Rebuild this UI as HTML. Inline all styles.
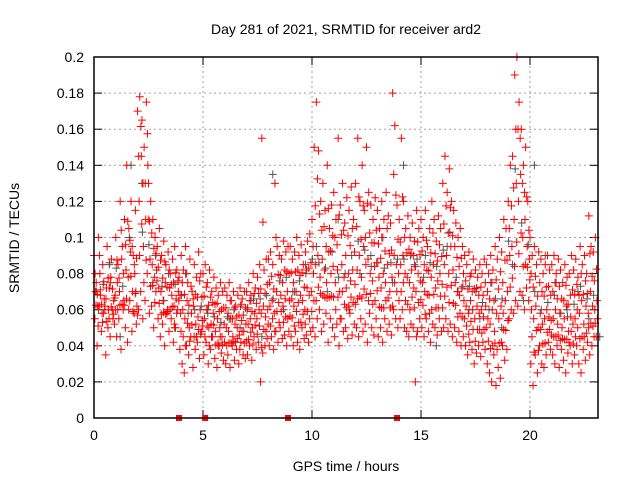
<!DOCTYPE html>
<html><head><meta charset="utf-8"><style>
body{margin:0;background:#fff}
svg{display:block;font-family:"Liberation Sans",sans-serif}
</style></head><body>
<svg id="c" width="640" height="480">
<rect width="640" height="480" fill="#fff"/>
<text x="346" y="34" font-size="14" text-anchor="middle">Day 281 of 2021, SRMTID for receiver ard2</text>
<text x="0" y="0" font-size="14" text-anchor="middle" transform="translate(19,238) rotate(-90)">SRMTID / TECUs</text>
<text x="346" y="471" font-size="14" text-anchor="middle">GPS time / hours</text>
<g id="grid"></g><g id="pts"></g>
<rect x="94" y="57" width="504" height="361" fill="none" stroke="#000" stroke-width="1.5"/>
</svg>
<script>
const xTicks=[0,5,10,15,20];
const yTicks=[0,0.02,0.04,0.06,0.08,0.1,0.12,0.14,0.16,0.18,0.2];
const yTickLabels=["0","0.02","0.04","0.06","0.08","0.1","0.12","0.14","0.16","0.18","0.2"];
const redA=[90,75,100,68,85,60,95,72,88,65,100,85,120,95,110,140,105,120,90,115,170,178,165,150,175,130,120,110,100,95,105,90,98,85,92,80,88,95,82,78,90,82,95,75,88,70,85,78,92,80,80,85,75,82,70,78,72,68,75,70,72,68,75,65,70,62,68,72,66,70,70,75,68,80,72,78,85,155,82,88,88,92,85,130,95,90,88,98,92,95,95,88,92,100,90,96,85,92,98,102,110,150,175,148,120,130,115,140,105,118,125,110,155,118,130,108,122,115,128,110,130,155,120,140,115,150,125,118,110,122,115,105,120,110,125,112,108,180,162,118,110,155,120,105,112,100,108,98,115,105,110,100,115,95,105,120,110,98,112,105,130,145,125,138,120,115,108,100,105,95,90,85,92,80,88,82,78,85,80,88,85,80,90,82,95,88,100,92,110,105,120,140,145,190,200,175,160,140,150,120,100,90,95,85,92,88,80,85,90,82,85,90,80,88,82,75,85,78,80,90,82,88,78,95,85,90,80,112,95,92,100];
const redB=[55,40,62,48,58,35,50,45,60,52,45,55,38,60,50,42,65,48,58,52,60,70,55,65,80,58,62,50,70,55,45,52,40,58,48,55,42,50,60,38,30,25,40,35,45,28,38,42,33,48,35,42,30,38,45,33,28,40,36,32,30,35,28,40,32,38,30,42,35,33,35,40,32,45,38,42,20,36,40,44,40,45,38,48,42,50,44,46,40,48,45,40,48,42,38,50,44,46,42,48,50,45,55,60,48,52,58,42,55,50,45,52,40,55,48,50,44,58,46,52,50,45,55,48,52,42,58,50,46,55,45,50,42,55,48,52,46,60,55,50,55,60,50,48,45,52,50,20,48,55,50,45,55,48,42,52,50,46,55,48,50,55,48,52,45,50,42,48,40,45,40,35,42,38,30,36,40,34,42,38,30,25,20,35,18,28,22,40,32,38,55,60,58,65,62,70,68,60,72,65,30,18,35,25,40,30,28,35,42,38,35,30,40,28,38,32,25,36,40,30,35,40,30,25,38,32,42,35,40,45,45];
const redC=[70,62,80,58,66,72,60,78,55,68,75,70,88,65,82,78,92,70,80,62,120,145,95,110,140,88,85,78,82,72,70,65,75,60,72,68,62,66,70,58,60,55,65,50,58,62,52,56,60,54,55,60,50,52,58,48,55,50,45,52,50,48,55,45,52,50,46,54,48,52,52,55,50,58,55,60,58,62,56,60,62,65,58,70,64,68,62,66,70,65,66,62,70,64,68,65,60,72,68,70,80,85,90,78,88,82,75,92,80,84,75,82,70,85,78,72,80,76,82,74,82,90,78,95,85,88,80,76,84,86,78,72,80,75,85,70,78,90,85,80,85,90,80,78,75,82,72,70,80,76,75,70,82,68,78,85,72,76,80,74,85,90,80,95,82,75,70,68,72,65,62,58,65,60,55,62,58,60,56,62,55,52,60,48,58,55,62,58,65,70,90,95,110,130,120,135,100,110,95,88,60,55,62,50,58,52,55,60,56,54,55,60,52,58,50,55,62,48,56,52,55,60,58,65,52,62,58,70,62,60,65];
const grayV=[60,85,45,140,130,75,65,50,80,45,60,40,55,50,65,45,135,60,70,85,95,70,110,60,80,90,100,75,140,85,90,40,95,70,60,55,75,50,85,65,140,90,75,60,70,55,45];
const flagT=[3.9,5.1,8.9,13.9];
const X0=94,X1=598,Y0=418,Y1=57,XMAX=23.12;
const sx=t=>X0+(t/XMAX)*(X1-X0), sy=v=>Y0-(v/0.2)*(Y0-Y1);
const NS="http://www.w3.org/2000/svg";
const grid=document.getElementById('grid'),pts=document.getElementById('pts');
function mk(tag,at,par){const e=document.createElementNS(NS,tag);for(const k in at)e.setAttribute(k,at[k]);par.appendChild(e);return e;}
yTicks.forEach((v,i)=>{
 const y=sy(v);
 if(i>0&&i<yTicks.length-1){const g=mk('line',{x1:X0,x2:X1,y1:y,y2:y,stroke:'#a0a0a0','stroke-dasharray':'2,3'},grid);
 
 }
 mk('line',{x1:X0,x2:X0+8,y1:y,y2:y,stroke:'#000'},grid);
 mk('line',{x1:X1-8,x2:X1,y1:y,y2:y,stroke:'#000'},grid);
 const t=mk('text',{x:X0-10,y:y+5,'font-size':14,'text-anchor':'end'},grid);t.textContent=yTickLabels[i];
 
 
});
xTicks.forEach(v=>{
 const x=sx(v);
 if(v>0){const g=mk('line',{x1:x,x2:x,y1:Y0,y2:Y1,stroke:'#a0a0a0','stroke-dasharray':'2,3'},grid);
 
 }
 mk('line',{x1:x,x2:x,y1:Y0,y2:Y0-8,stroke:'#000'},grid);
 mk('line',{x1:x,x2:x,y1:Y1,y2:Y1+8,stroke:'#000'},grid);
 const t=mk('text',{x:x,y:Y0+22,'font-size':14,'text-anchor':'middle'},grid);t.textContent=String(v);
 
 
});
function plus(t,v,col){
 const x=sx(t),y=sy(v/1000);
 const p=mk('path',{d:`M${x-4} ${y}H${x+4}M${x} ${y-4}V${y+4}`,stroke:col,'stroke-width':1,fill:'none'},pts);
 
 
}
grayV.forEach((v,i)=>plus(i*0.5+0.2,v,'#555'));
redC.forEach((v,i)=>{ if(i%3===1) plus(i*0.1+0.02,v+8,'#555'); });
redA.forEach((v,i)=>plus(i*0.1,v,'#f00'));
redB.forEach((v,i)=>plus(i*0.1+0.04,v,'#f00'));
redC.forEach((v,i)=>plus(i*0.1+0.07,v,'#f00'));
redA.forEach((v,i)=>plus(i*0.1+0.05,(v+redC[i])/2,'#f00'));
redB.forEach((v,i)=>plus(i*0.1+0.09,(v+redC[i])/2,'#f00'));
flagT.forEach(t=>{const r=mk('rect',{x:sx(t)-3,y:Y0-3,width:6,height:6,fill:'#f00'},pts);
 
 });
</script>
</body></html>
